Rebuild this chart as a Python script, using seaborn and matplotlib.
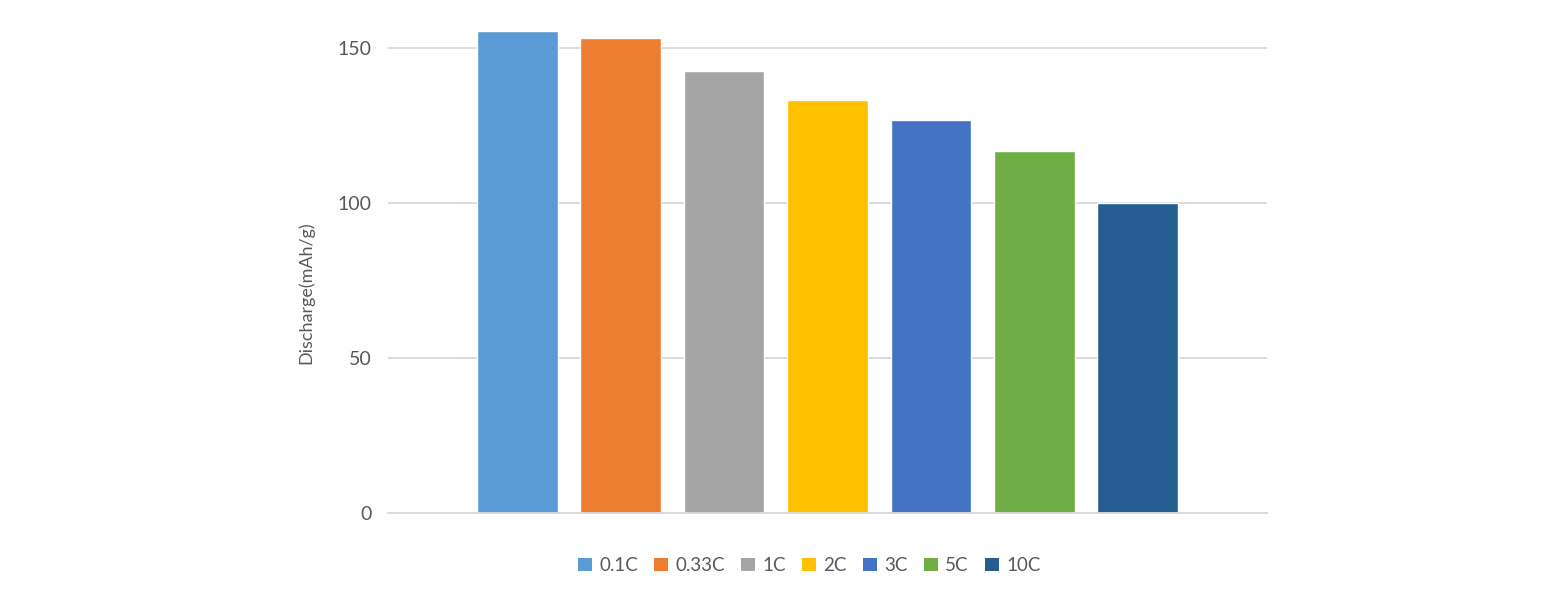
import matplotlib
matplotlib.use("Agg")
import matplotlib.pyplot as plt
import seaborn as sns
import pandas as pd
from matplotlib.patches import Patch

# data #
rates = ["0.1C", "0.33C", "1C", "2C", "3C", "5C", "10C"]
discharge = [155.7, 153.2, 142.7, 133.2, 126.8, 116.8, 100.2]
colors = ["#5B9BD5", "#ED7D31", "#A5A5A5", "#FFC000", "#4472C4", "#70AD47", "#255E91"]

df = pd.DataFrame({"rate": rates, "discharge": discharge})

sns.set_style("white")
plt.rcParams["font.family"] = ["Lato", "DejaVu Sans"]
text_color = "#595959"

fig = plt.figure(figsize=(15.6, 5.9), dpi=100)
ax = fig.add_axes([0.2487, 0.1297, 0.5635, 0.841])

sns.barplot(data=df, x="rate", y="discharge", hue="rate", palette=colors,
            width=0.78, ax=ax, legend=False, saturation=1)

# configure axes #
ax.set_xlim(-1.25, 7.25)
ax.set_ylim(0, 160)
ax.set_yticks([0, 50, 100, 150])
ax.set_xticks([])
ax.set_xlabel("")
ax.set_ylabel("Discharge(mAh/g)", fontsize=13, color=text_color)
ax.yaxis.set_label_coords(-0.084, 0.444)
ax.tick_params(axis="y", length=0, labelsize=14, labelcolor=text_color, pad=12)
ax.yaxis.grid(True, color="#d9d9d9", linewidth=1.3)
ax.set_axisbelow(True)
for side in ["top", "right", "left"]:
    ax.spines[side].set_visible(False)
ax.spines["bottom"].set_color("#d9d9d9")
ax.spines["bottom"].set_linewidth(1.3)

# legend at the bottom #
handles = [Patch(facecolor=c, edgecolor="none") for c in colors]
fig.legend(handles, rates, loc="center", bbox_to_anchor=(0.5186, 0.0415), ncol=7,
           frameon=False, fontsize=13.5, labelcolor=text_color,
           handlelength=0.75, handleheight=0.75, handletextpad=0.4, columnspacing=0.85)

plt.savefig("out.png", dpi=100)
